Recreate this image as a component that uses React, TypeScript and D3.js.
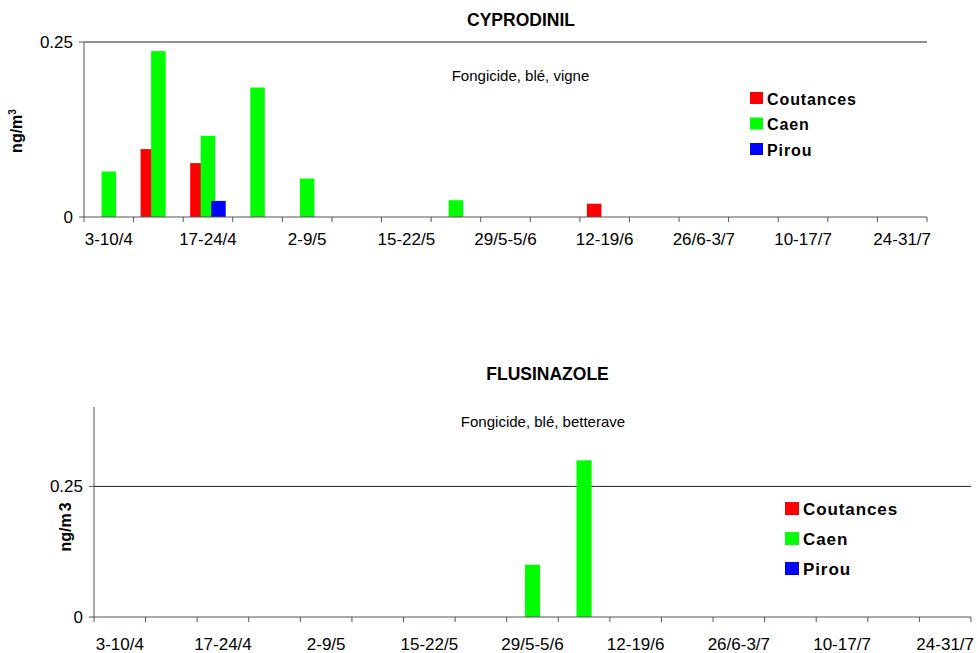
import React from "react";
import * as d3 from "d3";

const categories = [
  "3-10/4", "10-17/4", "17-24/4", "24/4-2/5", "2-9/5", "9-15/5", "15-22/5", "22-29/5",
  "29/5-5/6", "5-12/6", "12-19/6", "19-26/6", "26/6-3/7", "3-10/7", "10-17/7", "17-24/7", "24-31/7",
];
const seriesNames = ["Coutances", "Caen", "Pirou"];
const seriesColors = ["#FF0000", "#00FF00", "#0000FF"];

const cyprodinilCoutances = [0, 0.097, 0.077, 0, 0, 0, 0, 0, 0, 0, 0.019, 0, 0, 0, 0, 0, 0];
const cyprodinilCaen = [0.065, 0.237, 0.116, 0.185, 0.055, 0, 0, 0.024, 0, 0, 0, 0, 0, 0, 0, 0, 0];
const cyprodinilPirou = [0, 0, 0.023, 0, 0, 0, 0, 0, 0, 0, 0, 0, 0, 0, 0, 0, 0];

const flusinazoleCoutances = [0, 0, 0, 0, 0, 0, 0, 0, 0, 0, 0, 0, 0, 0, 0, 0, 0];
const flusinazoleCaen = [0, 0, 0, 0, 0, 0, 0, 0, 0.1, 0.3, 0, 0, 0, 0, 0, 0, 0];
const flusinazolePirou = [0, 0, 0, 0, 0, 0, 0, 0, 0, 0, 0, 0, 0, 0, 0, 0, 0];

const yTicks = [0, 0.25];

const FONT = "'Liberation Sans', Arial, sans-serif";

type PanelProps = {
  title: string;
  titleX: number;
  titleY: number;
  subtitle: string;
  subX: number;
  subY: number;
  series: number[][];
  x0: number;
  x1: number;
  yTop: number;
  yBase: number;
  yMax: number;
  yLabel: React.ReactNode;
  yLabelX: number;
  yLabelY: number;
  xLabelY: number;
  legendX: number;
  legendY: number;
  legendStep: number;
  legendSize: number;
  legendFont: number;
};

function Panel(p: PanelProps) {
  const x = d3.scaleBand<string>().domain(categories).range([p.x0, p.x1]).padding(0);
  const y = d3.scaleLinear().domain([0, p.yMax]).range([p.yBase, p.yTop]);
  const w = x.bandwidth();
  const bw = 0.293 * w;
  const step = 0.212 * w;
  const start = (w - (2 * step + bw)) / 2;
  const tickPositions = categories.map((c) => x(c) as number).concat([p.x1]);

  return (
    <g>
      <text x={p.titleX} y={p.titleY} textAnchor="middle" fontFamily={FONT} fontWeight="bold" fontSize={17.5}>
        {p.title}
      </text>
      <text x={p.subX} y={p.subY} textAnchor="middle" fontFamily={FONT} fontSize={15}>
        {p.subtitle}
      </text>
      {/* gridlines */}
      {yTicks.filter((t) => t > 0).map((t) => (
        <line key={"g" + t} x1={p.x0} x2={p.x1} y1={y(t)} y2={y(t)} stroke="#222" strokeWidth={1} />
      ))}
      {/* bars */}
      {p.series.map((vals, si) =>
        vals.map((v, ci) =>
          v > 0 ? (
            <rect
              key={`b${si}-${ci}`}
              x={(x(categories[ci]) as number) + start + si * step}
              y={y(v)}
              width={bw}
              height={p.yBase - y(v)}
              fill={seriesColors[si]}
            />
          ) : null
        )
      )}
      {/* y axis */}
      <line x1={p.x0} x2={p.x0} y1={p.yTop} y2={p.yBase} stroke="#555" strokeWidth={1} />
      {yTicks.map((t) => (
        <g key={"yt" + t}>
          <line x1={p.x0 - 5} x2={p.x0} y1={y(t)} y2={y(t)} stroke="#555" strokeWidth={1} />
          <text x={p.x0 - 11} y={y(t) + 6} textAnchor="end" fontFamily={FONT} fontSize={17}>
            {t === 0 ? "0" : String(t)}
          </text>
        </g>
      ))}
      {/* x axis */}
      <line x1={p.x0} x2={p.x1} y1={p.yBase} y2={p.yBase} stroke="#555" strokeWidth={1} />
      {tickPositions.map((tx, i) => (
        <line key={"xt" + i} x1={tx} x2={tx} y1={p.yBase} y2={p.yBase + 5} stroke="#555" strokeWidth={1} />
      ))}
      {categories.map((c, i) =>
        i % 2 === 0 ? (
          <text key={"xl" + c} x={(x(c) as number) + w / 2} y={p.xLabelY} textAnchor="middle" fontFamily={FONT} fontSize={17}>
            {c}
          </text>
        ) : null
      )}
      {/* y label */}
      <text
        transform={`translate(${p.yLabelX},${p.yLabelY}) rotate(-90)`}
        textAnchor="middle"
        fontFamily={FONT}
        fontWeight="bold"
        fontSize={16}
      >
        {p.yLabel}
      </text>
      {/* legend */}
      {seriesNames.map((n, i) => (
        <g key={"lg" + n}>
          <rect
            x={p.legendX}
            y={p.legendY + i * p.legendStep - p.legendSize / 2}
            width={p.legendSize}
            height={p.legendSize - 1}
            fill={seriesColors[i]}
          />
          <text
            x={p.legendX + p.legendSize + 4}
            y={p.legendY + i * p.legendStep + 6}
            fontFamily={FONT}
            fontWeight="bold"
            fontSize={p.legendFont}
            letterSpacing={0.9}
          >
            {n}
          </text>
        </g>
      ))}
    </g>
  );
}

export default function App() {
  return (
    <svg
      width={977}
      height={653}
      style={{ position: "absolute", left: 0, top: 0, background: "#fff" }}
    >
      <rect x={0} y={0} width={977} height={653} fill="#fff" />
      <Panel
        title="CYPRODINIL"
        titleX={521}
        titleY={26}
        subtitle="Fongicide, blé, vigne"
        subX={520.5}
        subY={81}
        series={[cyprodinilCoutances, cyprodinilCaen, cyprodinilPirou]}
        x0={84}
        x1={927}
        yTop={42}
        yBase={217}
        yMax={0.25}
        yLabel={
          <>
            ng/m<tspan dy={-6} fontSize={10}>3</tspan>
          </>
        }
        yLabelX={22}
        yLabelY={131}
        xLabelY={245}
        legendX={750}
        legendY={98.5}
        legendStep={25.5}
        legendSize={13}
        legendFont={16}
      />
      <Panel
        title="FLUSINAZOLE"
        titleX={547.5}
        titleY={380}
        subtitle="Fongicide, blé, betterave"
        subX={543}
        subY={427}
        series={[flusinazoleCoutances, flusinazoleCaen, flusinazolePirou]}
        x0={94}
        x1={971}
        yTop={407}
        yBase={617}
        yMax={0.402}
        yLabel={
          <>
            ng/m<tspan dx={2}>3</tspan>
          </>
        }
        yLabelX={71}
        yLabelY={527}
        xLabelY={650}
        legendX={785}
        legendY={509}
        legendStep={30}
        legendSize={14}
        legendFont={17}
      />
    </svg>
  );
}
